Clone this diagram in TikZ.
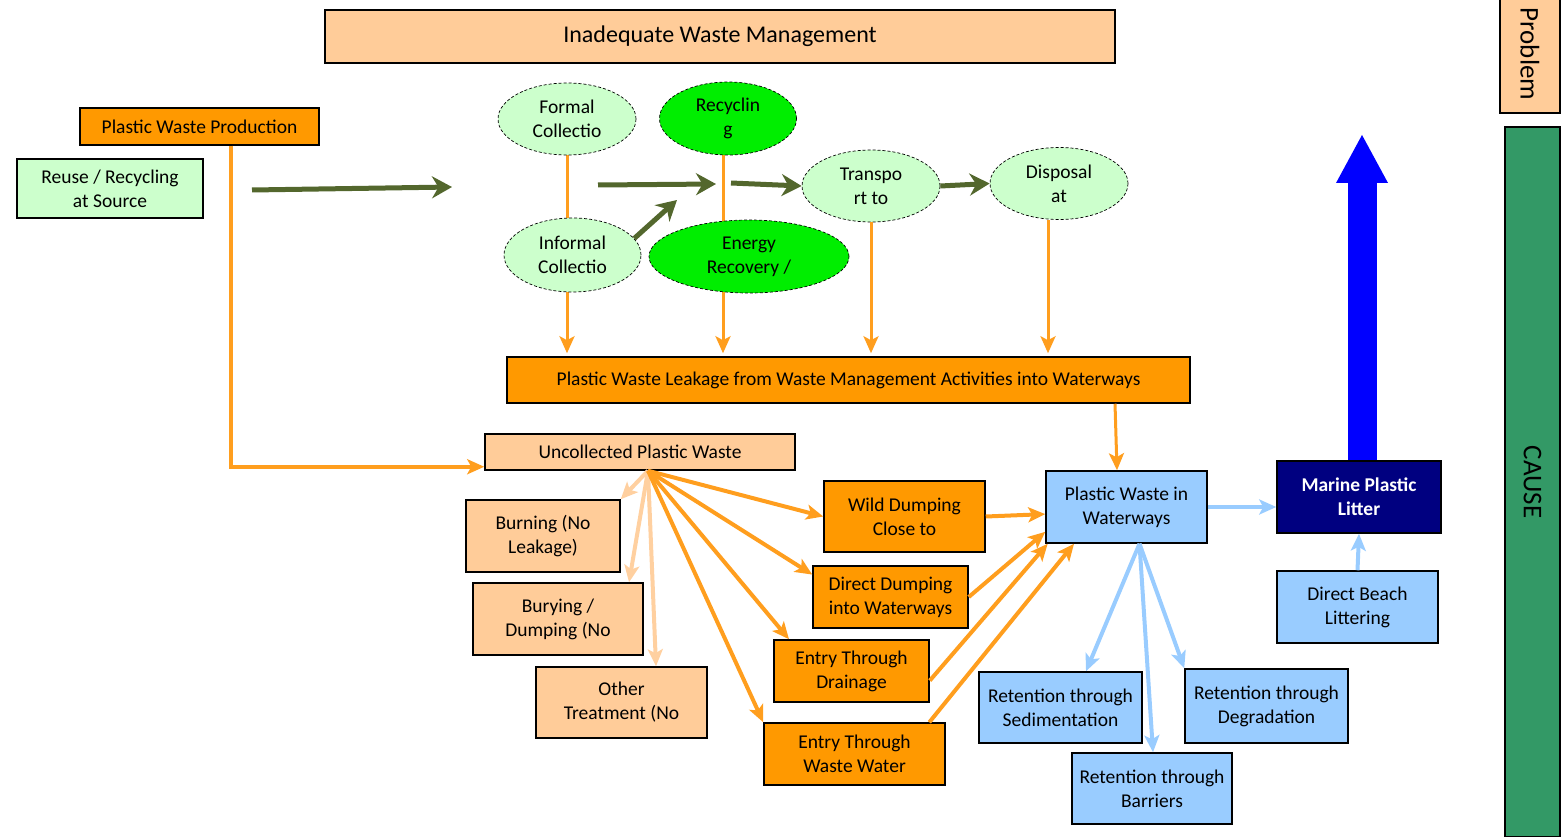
\documentclass[tikz,border=0pt]{standalone}
\usepackage{fontspec}
\setmainfont{Carlito}
\usetikzlibrary{arrows.meta,shapes.geometric,backgrounds}

\definecolor{peach}{RGB}{255,204,153}
\definecolor{orangeb}{RGB}{255,153,0}
\definecolor{orangel}{RGB}{255,158,30}
\definecolor{peachl}{RGB}{255,208,160}
\definecolor{lgreen}{RGB}{204,255,204}
\definecolor{bgreen}{RGB}{0,238,0}
\definecolor{lblue}{RGB}{153,204,255}
\definecolor{navyb}{RGB}{0,0,128}
\definecolor{bigblue}{RGB}{0,0,255}
\definecolor{causegreen}{RGB}{51,153,102}
\definecolor{olive}{RGB}{83,103,45}

\begin{document}
\begin{tikzpicture}[x=1pt,y=-1pt,>={Stealth[length=17pt,width=15pt,inset=4pt]},
  font=\fontsize{19.5}{24}\selectfont]
  \tikzstyle{box}=[rectangle,draw=black,line width=1.5pt,align=center,inner sep=1pt]
  \tikzstyle{peach box}=[box,fill=peach]
  \tikzstyle{orange box}=[box,fill=orangeb]
  \tikzstyle{green box}=[box,fill=lgreen]
  \tikzstyle{blue box}=[box,fill=lblue]
  \tikzstyle{stage}=[ellipse,draw=black,densely dashed,line width=0.7pt,
                     fill=lgreen,align=center,inner sep=0pt]
  \tikzstyle{green stage}=[stage,fill=bgreen]
  \tikzstyle{flow}=[->,line width=5pt,olive,>={Stealth[length=20pt,width=22pt]}]
  \tikzstyle{leak}=[->,line width=4pt,orangel]
  \tikzstyle{soft leak}=[->,line width=4pt,peachl]
  \tikzstyle{water}=[->,line width=4pt,lblue]
  \useasboundingbox (0,0) rectangle (1565,837);

  % side labels
  \node [peach box,minimum width=790pt,minimum height=53pt,
         font=\fontsize{24}{28}\selectfont] (iwm) at (720,36.5) {Inadequate Waste Management};
  \node [peach box,rotate=-90,minimum width=118pt,minimum height=60pt,
         font=\fontsize{27}{30}\selectfont] (problem) at (1530,54) {Problem};
  \node [box,fill=causegreen,rotate=-90,minimum width=710pt,minimum height=55pt,
         font=\fontsize{27}{30}\selectfont] (cause) at (1532.5,482) {CAUSE};

  % waste management chain
  \node [orange box,minimum width=239pt,minimum height=37pt] (prod) at (199.5,126.5) {Plastic Waste Production};
  \node [green box,minimum width=186pt,minimum height=59pt] (reuse) at (110,188.5) {Reuse / Recycling\\at Source};
  \node [stage,minimum width=138pt,minimum height=72pt] (formal) at (567,119) {Formal\\Collectio};
  \node [green stage,minimum width=137pt,minimum height=73pt] (recyc) at (728,118.5) {Recyclin\\g};
  \node [stage,minimum width=138pt,minimum height=72pt] (transp) at (871,186) {Transpo\\rt to};
  \node [stage,minimum width=138pt,minimum height=72pt] (dispo) at (1059,183.5) {Disposal\\at};
  \node [stage,minimum width=137pt,minimum height=74pt] (informal) at (572.5,255) {Informal\\Collectio};
  \node [green stage,minimum width=200pt,minimum height=73pt] (energy) at (749,256.5) {Energy\\Recovery /};
  \node [orange box,minimum width=683pt,minimum height=46pt] (leakage) at (848.5,380)
        {Plastic Waste Leakage from Waste Management Activities into Waterways};

  % uncollected waste
  \node [peach box,minimum width=310pt,minimum height=36pt] (uncol) at (640,452) {Uncollected Plastic Waste};
  \node [peach box,minimum width=154pt,minimum height=72pt] (burning) at (543,536) {Burning (No\\Leakage)};
  \node [peach box,minimum width=170pt,minimum height=72pt] (burying) at (558,619) {Burying /\\Dumping (No};
  \node [peach box,minimum width=171pt,minimum height=71pt] (other) at (621.5,702.5) {Other\\Treatment (No};
  \node [orange box,minimum width=161pt,minimum height=71pt] (wild) at (904.5,516.5) {Wild Dumping\\Close to};
  \node [orange box,minimum width=155pt,minimum height=62pt] (direct) at (890.5,597) {Direct Dumping\\into Waterways};
  \node [orange box,minimum width=155pt,minimum height=62pt] (drain) at (851.5,671) {Entry Through\\Drainage};
  \node [orange box,minimum width=181pt,minimum height=62pt] (wastew) at (854.5,754) {Entry Through\\Waste Water};

  % waterways and sea
  \node [blue box,minimum width=161pt,minimum height=72pt] (ww) at (1126.5,507) {Plastic Waste in\\Waterways};
  \node [box,fill=navyb,text=white,font=\fontsize{19.5}{24}\selectfont\bfseries,
         minimum width=164pt,minimum height=72pt] (marine) at (1359,497) {Marine Plastic\\Litter};
  \node [blue box,minimum width=161pt,minimum height=72pt] (beach) at (1357.5,607) {Direct Beach\\Littering};
  \node [blue box,minimum width=163pt,minimum height=71pt] (sed) at (1060.5,707.5) {Retention through\\Sedimentation};
  \node [blue box,minimum width=160pt,minimum height=71pt] (barr) at (1152,788.5) {Retention through\\Barriers};
  \node [blue box,minimum width=163pt,minimum height=74pt] (degr) at (1266.5,706) {Retention through\\Degradation};

  \begin{scope}[on background layer]
    \draw [leak,line width=3pt,shorten >=3pt] (formal.south) -- (formal.south |- leakage.north);
    \draw [leak,line width=3pt,shorten >=3pt] (723,0 |- recyc.south) -- (723,0 |- leakage.north);
    \coordinate (top) at (1362,135);
    \draw [bigblue,line width=29pt,-{Triangle[length=48pt,width=52pt,line width=0pt]}]
      (1362,0 |- marine.north) -- (top);
  \end{scope}
  \draw [leak,line width=3pt,shorten >=3pt] (transp.south) -- (transp.south |- leakage.north);
  \draw [leak,line width=3pt,shorten >=3pt] (1048,0 |- dispo.south) -- (1048,0 |- leakage.north);
  \draw [leak,line width=3pt] (1115,0 |- leakage.south) -- (1117,0 |- ww.north);

  % green flow
  \coordinate (g1) at (252,190);
  \coordinate (g2) at (452,187);
  \coordinate (g3) at (598,185);
  \coordinate (g4) at (716,184);
  \coordinate (g5) at (731,183);
  \coordinate (g6) at (677,200);
  \draw [flow] (g1) -- (g2);
  \draw [flow] (g3) -- (g4);
  \draw [flow] (g5) -- (transp.west);
  \draw [flow] (transp.east) -- (dispo.west);
  \draw [flow] (informal.15) -- (g6);

  % uncollected fan
  \draw [leak] (231,0 |- prod.south) |- ([yshift=4pt]uncol.south west);
  \coordinate (fan) at ([xshift=8pt]uncol.south);
  \draw [soft leak] (fan) -- (burning.north east);
  \draw [soft leak] (fan) -- (629,0 |- burying.north);
  \draw [soft leak] (fan) -- (656,0 |- other.north);
  \draw [leak] (fan) -- (wild.west);
  \draw [leak] (fan) -- (direct.164);
  \draw [leak] (fan) -- (789,0 |- drain.north);
  \draw [leak] (fan) -- (wastew.north west);

  \draw [leak] (wild.east) -- (ww.185);
  \draw [leak] (direct.east) -- (ww.197);
  \draw [leak] (drain.-7) -- (ww.205);
  \draw [leak] (wastew.23) -- (ww.215);

  % retention
  \coordinate (wfan) at ([xshift=13pt]ww.south);
  \draw [water] (wfan) -- (1086,0 |- sed.north);
  \draw [water] (wfan) -- (1153,0 |- barr.north);
  \draw [water] (wfan) -- (degr.north west);
  \draw [water] (ww.east) -- (marine.west |- ww.east);
  \draw [water] (beach.north) -- (marine.south);
\end{tikzpicture}
\end{document}
